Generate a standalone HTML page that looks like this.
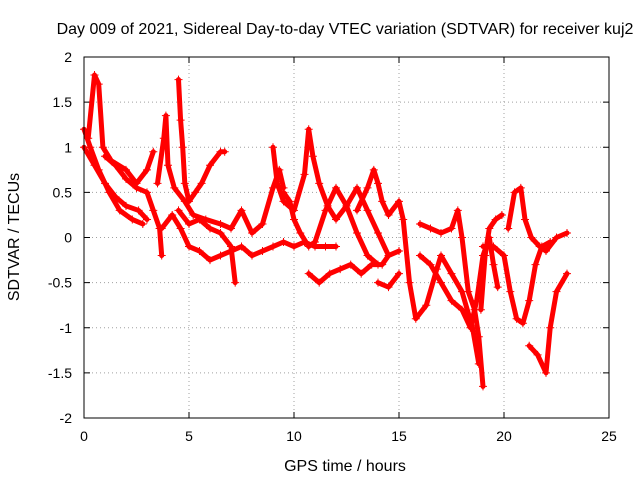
<!DOCTYPE html>
<html><head><meta charset="utf-8"><style>
body{margin:0;background:#fff}
svg{display:block;font-family:"Liberation Sans",sans-serif}
</style></head><body>
<svg id="chart" width="640" height="480">
<text x="345" y="34" font-size="16" text-anchor="middle">Day 009 of 2021, Sidereal Day-to-day VTEC variation (SDTVAR) for receiver kuj2</text>
<text x="345" y="471" font-size="16" text-anchor="middle">GPS time / hours</text>
<text transform="translate(19,237) rotate(-90)" font-size="16" text-anchor="middle">SDTVAR / TECUs</text>
<g id="grid"></g><g id="ticks"></g><g id="series"></g>
<rect x="84" y="57" width="525" height="361" fill="none" stroke="#000"/>
</svg>
<script>
const xTicks=[0,5,10,15,20,25];
const yTicks=[2,1.5,1,0.5,0,-0.5,-1,-1.5,-2];
const yTickLabels=["2","1.5","1","0.5","0","-0.5","-1","-1.5","-2"];
const T1=[[0,1.2],[0.3,1.0],[0.7,0.75],[1.2,0.5],[1.7,0.3],[2.3,0.2],[2.8,0.15]];
const T2=[[0,1.0],[0.5,0.8],[1,0.6],[1.5,0.45],[2,0.35],[2.6,0.3],[3,0.2]];
const T3=[[0.2,1.1],[0.5,1.8],[0.7,1.7],[0.9,1.0],[1.3,0.85],[2,0.75],[2.5,0.6],[3,0.75],[3.3,0.95]];
const T4=[[1,0.9],[1.5,0.8],[2,0.65],[2.5,0.55],[3,0.5],[3.3,0.3],[3.6,0.1],[3.7,-0.2]];
const T5=[[3.5,0.6],[3.8,1.1],[3.9,1.35],[4.0,0.8],[4.3,0.55],[4.8,0.4],[5.2,0.25],[5.8,0.2],[6.5,0.15],[7.0,0.1]];
const T6=[[3.7,0.1],[4.2,0.25],[4.6,0.1],[5,-0.1],[5.5,-0.15],[6,-0.25],[6.5,-0.2],[7,-0.15],[7.5,-0.1],[8,-0.2],[8.5,-0.15],[9,-0.1],[9.5,-0.05],[10,-0.1],[10.5,-0.05],[11,-0.1],[11.5,-0.1],[12,-0.1]];
const T7=[[4.5,1.75],[4.6,1.3],[4.7,1.0],[4.8,0.6],[5,0.4],[5.3,0.5],[5.6,0.6],[6,0.8],[6.5,0.95],[6.7,0.95]];
const T8=[[4.5,0.3],[5,0.15],[5.5,0.2],[6,0.1],[6.5,0.05],[7,-0.1],[7.2,-0.5]];
const T9=[[7,0.1],[7.5,0.3],[8,0.05],[8.5,0.15],[9,0.55],[9.3,0.75],[9.5,0.55]];
const T10=[[9,1.0],[9.2,0.6],[9.5,0.4],[10,0.3],[10.5,0.7],[10.7,1.2],[10.9,0.9],[11.2,0.6],[11.6,0.35],[12,0.2],[12.5,0.35],[13,0.05],[13.5,-0.2],[14,-0.3]];
const T11=[[9.5,0.5],[9.8,0.4],[10,0.2],[10.3,0.05],[10.7,-0.1],[11,-0.05],[11.5,0.3],[12,0.55],[12.5,0.35],[13,0.55],[13.5,0.3],[14,0.05],[14.5,-0.2]];
const T12=[[10.7,-0.4],[11.2,-0.5],[11.7,-0.4],[12.2,-0.35],[12.7,-0.3],[13.2,-0.4],[13.7,-0.3],[14.2,-0.3],[14.5,-0.2],[15,-0.15]];
const T13=[[13,0.3],[13.5,0.55],[13.8,0.75],[14,0.6],[14.2,0.4],[14.5,0.25],[15,0.4],[15.2,0.2],[15.5,-0.5],[15.8,-0.9],[16.3,-0.75],[16.8,-0.35],[17,-0.2],[17.5,-0.4],[18,-0.6],[18.5,-1.0],[18.8,-1.4]];
const T14=[[14,-0.5],[14.5,-0.55],[15,-0.4]];
const T15=[[16,0.15],[16.5,0.1],[17,0.05],[17.5,0.1],[17.8,0.3],[18,0.0],[18.3,-0.6],[18.6,-0.8],[18.8,-1.1],[19,-1.65]];
const T16=[[16,-0.2],[16.5,-0.3],[17,-0.5],[17.5,-0.7],[18,-0.8],[18.4,-1.0],[18.7,-0.7],[19.0,-0.2],[19.3,0.0],[19.5,-0.3],[19.7,-0.55]];
const T17=[[18.9,-0.8],[19.1,-0.2],[19.3,0.1],[19.6,0.2],[19.9,0.25]];
const T18=[[19,-0.1],[19.5,-0.1],[20,-0.2],[20.3,-0.6],[20.6,-0.9],[20.9,-0.95],[21.2,-0.7],[21.5,-0.3],[21.8,-0.1],[22.2,-0.05]];
const T19=[[20.2,0.1],[20.5,0.5],[20.8,0.55],[21,0.2],[21.3,0.0],[21.7,-0.1],[22,-0.15],[22.5,0.0],[23,0.05]];
const T20=[[21.2,-1.2],[21.6,-1.3],[22,-1.5],[22.2,-1.0],[22.5,-0.6],[23,-0.4]];
const allSeries=[T1,T2,T3,T4,T5,T6,T7,T8,T9,T10,T11,T12,T13,T14,T15,T16,T17,T18,T19,T20];

const NS="http://www.w3.org/2000/svg";
const X0=84,X1=609,Y0=418,Y1=57;
const xs=v=>X0+(v-0)/25*(X1-X0);
const ys=v=>Y0-(v+2)/4*(Y0-Y1);
function mk(t,a,p){const e=document.createElementNS(NS,t);for(const k in a)e.setAttribute(k,a[k]);p.appendChild(e);return e;}
const grid=document.getElementById('grid'),ticks=document.getElementById('ticks'),ser=document.getElementById('series');
xTicks.forEach(t=>{
  const x=xs(t);
  if(t>0&&t<25){const g=mk('line',{x1:x,x2:x,y1:Y0,y2:Y1,stroke:'#a0a0a0','stroke-dasharray':'1,3'},grid);
  
  }
  mk('line',{x1:x,x2:x,y1:Y0,y2:Y0-6,stroke:'#000'},ticks);
  mk('line',{x1:x,x2:x,y1:Y1,y2:Y1+6,stroke:'#000'},ticks);
  const l=mk('text',{x:x,y:Y0+23,'font-size':14,'text-anchor':'middle'},ticks);l.textContent=t;
  
  
});
yTicks.forEach((t,i)=>{
  const y=ys(t);
  if(t>-2&&t<2){const g=mk('line',{x1:X0,x2:X1,y1:y,y2:y,stroke:'#a0a0a0','stroke-dasharray':'1,3'},grid);
  
  }
  mk('line',{x1:X0,x2:X0+6,y1:y,y2:y,stroke:'#000'},ticks);
  mk('line',{x1:X1,x2:X1-6,y1:y,y2:y,stroke:'#000'},ticks);
  const l=mk('text',{x:X0-12,y:y+5,'font-size':14,'text-anchor':'end'},ticks);l.textContent=yTickLabels[i];
  
  
});
allSeries.forEach((s,i)=>{
  const g=mk('g',{},ser);
  
  
  mk('polyline',{points:s.map(p=>xs(p[0])+','+ys(p[1])).join(' '),fill:'none',stroke:'#ff0000','stroke-width':5,'stroke-linejoin':'round','stroke-linecap':'round'},g);
  s.forEach(p=>{const x=xs(p[0]),y=ys(p[1]);
    mk('path',{d:`M${x-4},${y}h8M${x},${y-4}v8`,stroke:'#ff0000','stroke-width':1},g);});
});
</script>
</body></html>
